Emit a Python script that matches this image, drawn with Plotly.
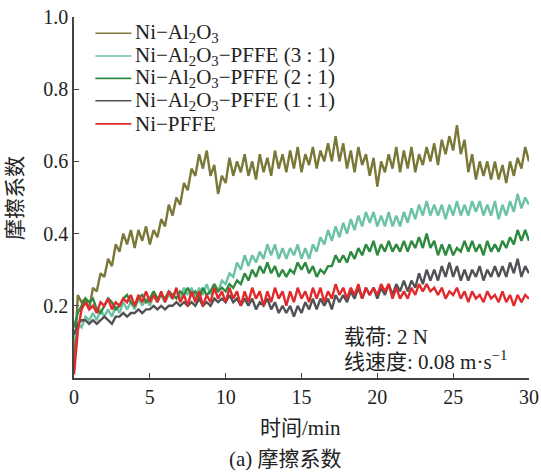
import plotly.graph_objects as go

# sampling grid (min), 0.25 min step
time_min = [i * 0.25 for i in range(121)]

ni_al2o3 = [
    0.02, 0.23, 0.21, 0.22, 0.19, 0.25, 0.24, 0.29,
    0.28, 0.33, 0.31, 0.37, 0.35, 0.40, 0.37, 0.41,
    0.36, 0.41, 0.38, 0.42, 0.37, 0.41, 0.39, 0.44,
    0.42, 0.48, 0.45, 0.50, 0.48, 0.54, 0.52, 0.58,
    0.56, 0.62, 0.58, 0.63, 0.56, 0.59, 0.51, 0.56,
    0.54, 0.61, 0.56, 0.60, 0.57, 0.62, 0.56, 0.60,
    0.55, 0.62, 0.57, 0.61, 0.56, 0.63, 0.58, 0.62,
    0.57, 0.63, 0.58, 0.64, 0.57, 0.62, 0.59, 0.64,
    0.58, 0.63, 0.60, 0.65, 0.60, 0.67, 0.60, 0.65,
    0.58, 0.63, 0.57, 0.64, 0.59, 0.62, 0.56, 0.61,
    0.53, 0.60, 0.57, 0.62, 0.58, 0.64, 0.57, 0.63,
    0.58, 0.64, 0.57, 0.62, 0.59, 0.64, 0.60, 0.65,
    0.59, 0.66, 0.62, 0.67, 0.63, 0.70, 0.62, 0.66,
    0.57, 0.62, 0.55, 0.60, 0.56, 0.60, 0.55, 0.60,
    0.55, 0.59, 0.54, 0.60, 0.56, 0.61, 0.58, 0.64,
    0.60,
]

pffe_3_1 = [
    0.11, 0.15, 0.14, 0.17, 0.16, 0.18, 0.16, 0.19,
    0.17, 0.19, 0.17, 0.20, 0.18, 0.21, 0.19, 0.21,
    0.19, 0.22, 0.20, 0.22, 0.20, 0.23, 0.21, 0.23,
    0.21, 0.23, 0.22, 0.24, 0.22, 0.25, 0.23, 0.25,
    0.22, 0.25, 0.23, 0.26, 0.23, 0.26, 0.24, 0.27,
    0.26, 0.29, 0.28, 0.32, 0.30, 0.34, 0.31, 0.34,
    0.32, 0.35, 0.33, 0.37, 0.34, 0.37, 0.33, 0.36,
    0.33, 0.36, 0.34, 0.37, 0.33, 0.36, 0.33, 0.37,
    0.35, 0.39, 0.37, 0.41, 0.38, 0.42, 0.39, 0.43,
    0.40, 0.44, 0.41, 0.45, 0.42, 0.46, 0.43, 0.46,
    0.42, 0.45, 0.42, 0.46, 0.42, 0.45, 0.42, 0.46,
    0.43, 0.47, 0.44, 0.48, 0.45, 0.49, 0.45, 0.48,
    0.45, 0.48, 0.44, 0.48, 0.45, 0.49, 0.45, 0.48,
    0.45, 0.49, 0.46, 0.49, 0.45, 0.48, 0.45, 0.49,
    0.44, 0.48, 0.45, 0.49, 0.46, 0.51, 0.47, 0.50,
    0.48,
]

pffe_2_1 = [
    0.14, 0.18, 0.20, 0.22, 0.21, 0.22, 0.19, 0.18,
    0.20, 0.22, 0.21, 0.19, 0.20, 0.22, 0.23, 0.21,
    0.20, 0.22, 0.23, 0.21, 0.22, 0.24, 0.22, 0.23,
    0.22, 0.24, 0.23, 0.22, 0.24, 0.23, 0.25, 0.23,
    0.24, 0.22, 0.25, 0.23, 0.24, 0.26, 0.24, 0.25,
    0.24, 0.26, 0.25, 0.27, 0.26, 0.29, 0.27, 0.30,
    0.28, 0.31, 0.29, 0.32, 0.29, 0.31, 0.28, 0.30,
    0.28, 0.30, 0.29, 0.32, 0.30, 0.32, 0.29, 0.31,
    0.28, 0.30, 0.29, 0.31, 0.31, 0.34, 0.32, 0.34,
    0.32, 0.35, 0.33, 0.36, 0.34, 0.37, 0.35, 0.38,
    0.34, 0.37, 0.35, 0.38, 0.35, 0.37, 0.35, 0.38,
    0.35, 0.38, 0.36, 0.39, 0.36, 0.40, 0.36, 0.38,
    0.34, 0.37, 0.34, 0.37, 0.34, 0.36, 0.35, 0.38,
    0.35, 0.38, 0.35, 0.37, 0.34, 0.38, 0.35, 0.37,
    0.35, 0.38, 0.36, 0.39, 0.37, 0.41, 0.38, 0.41,
    0.38,
]

pffe_1_1 = [
    0.12, 0.15, 0.16, 0.16, 0.15, 0.16, 0.15, 0.16,
    0.17, 0.16, 0.15, 0.17, 0.17, 0.18, 0.17, 0.18,
    0.18, 0.19, 0.18, 0.19, 0.19, 0.20, 0.19, 0.20,
    0.19, 0.20, 0.20, 0.21, 0.20, 0.21, 0.20, 0.21,
    0.20, 0.22, 0.20, 0.21, 0.20, 0.22, 0.21, 0.22,
    0.21, 0.23, 0.21, 0.22, 0.20, 0.22, 0.20, 0.22,
    0.19, 0.21, 0.20, 0.22, 0.19, 0.21, 0.18, 0.20,
    0.18, 0.20, 0.17, 0.20, 0.18, 0.21, 0.19, 0.22,
    0.19, 0.22, 0.20, 0.22, 0.19, 0.23, 0.21, 0.23,
    0.21, 0.24, 0.22, 0.25, 0.22, 0.25, 0.23, 0.25,
    0.22, 0.25, 0.23, 0.26, 0.23, 0.26, 0.24, 0.27,
    0.24, 0.27, 0.25, 0.29, 0.26, 0.30, 0.27, 0.30,
    0.27, 0.31, 0.28, 0.32, 0.28, 0.31, 0.27, 0.30,
    0.27, 0.30, 0.28, 0.31, 0.27, 0.30, 0.28, 0.31,
    0.28, 0.31, 0.28, 0.32, 0.29, 0.33, 0.28, 0.31,
    0.29,
]

ni_pffe = [
    0.01, 0.13, 0.19, 0.21, 0.19, 0.20, 0.18, 0.21,
    0.20, 0.22, 0.19, 0.21, 0.20, 0.22, 0.21, 0.23,
    0.20, 0.23, 0.21, 0.24, 0.21, 0.23, 0.21, 0.24,
    0.21, 0.24, 0.22, 0.25, 0.21, 0.23, 0.20, 0.24,
    0.21, 0.24, 0.20, 0.23, 0.21, 0.25, 0.22, 0.24,
    0.21, 0.25, 0.22, 0.24, 0.20, 0.24, 0.21, 0.25,
    0.22, 0.24, 0.20, 0.24, 0.21, 0.25, 0.22, 0.24,
    0.20, 0.24, 0.21, 0.25, 0.22, 0.24, 0.21, 0.25,
    0.22, 0.25, 0.21, 0.24, 0.22, 0.26, 0.23, 0.25,
    0.22, 0.25, 0.23, 0.26, 0.22, 0.25, 0.23, 0.25,
    0.23, 0.26, 0.24, 0.26, 0.22, 0.25, 0.22, 0.24,
    0.22, 0.25, 0.23, 0.26, 0.24, 0.26, 0.24, 0.25,
    0.23, 0.25, 0.22, 0.24, 0.23, 0.25, 0.22, 0.24,
    0.21, 0.24, 0.22, 0.23, 0.21, 0.24, 0.22, 0.23,
    0.21, 0.24, 0.21, 0.23, 0.20, 0.23, 0.21, 0.23,
    0.22,
]

series_names = [
    "Ni−Al<sub>2</sub>O<sub>3</sub>",
    "Ni−Al<sub>2</sub>O<sub>3</sub>−PFFE (3 : 1)",
    "Ni−Al<sub>2</sub>O<sub>3</sub>−PFFE (2 : 1)",
    "Ni−Al<sub>2</sub>O<sub>3</sub>−PFFE (1 : 1)",
    "Ni−PFFE",
]
series_values = [ni_al2o3, pffe_3_1, pffe_2_1, pffe_1_1, ni_pffe]
series_colors = ["#7a7838", "#6cc3a3", "#2e8a3e", "#505256", "#e2292b"]

x_ticks = [0, 5, 10, 15, 20, 25, 30]
y_ticks = [0.2, 0.4, 0.6, 0.8, 1.0]
y_ticktext = ["0.2", "0.4", "0.6", "0.8", "1.0"]

FONT = "Liberation Serif, Noto Sans CJK SC, serif"

fig = go.Figure()
for name, vals, col in zip(series_names, series_values, series_colors):
    fig.add_trace(go.Scatter(x=time_min, y=vals, mode="lines", name=name,
                             line=dict(color=col, width=2.4), showlegend=False))

# manual legend
leg_rows_y = [0.955, 0.892, 0.830, 0.768, 0.704]
for name, col, yy in zip(series_names, series_colors, leg_rows_y):
    fig.add_shape(type="line", xref="paper", yref="paper", x0=0.047, x1=0.126,
                  y0=yy, y1=yy, line=dict(color=col, width=1.6))
    fig.add_annotation(xref="paper", yref="paper", x=0.129, y=yy, text=name,
                       showarrow=False, xanchor="left", yanchor="middle",
                       font=dict(family=FONT, size=21, color="#222"))

# condition text
fig.add_annotation(xref="paper", yref="paper", x=0.588, y=(378 - 337) / 361,
                   text="载荷: 2 N", showarrow=False, xanchor="left", yanchor="middle",
                   font=dict(family=FONT, size=21, color="#222"))
fig.add_annotation(xref="paper", yref="paper", x=0.588, y=(378 - 360) / 361,
                   text="线速度: 0.08 m·s<sup>−1</sup>", showarrow=False,
                   xanchor="left", yanchor="middle",
                   font=dict(family=FONT, size=21, color="#222"))

# axis titles and caption
fig.add_annotation(xref="paper", yref="paper", x=-0.131, y=0.5, text="摩擦系数",
                   textangle=-90, showarrow=False, xanchor="center", yanchor="middle",
                   font=dict(family=FONT, size=21, color="#222"))
fig.add_annotation(xref="paper", yref="paper", x=0.498, y=(378 - 428) / 361,
                   text="时间/min", showarrow=False, xanchor="center", yanchor="middle",
                   font=dict(family=FONT, size=21, color="#222"))
fig.add_annotation(xref="paper", yref="paper", x=0.465, y=(378 - 459) / 361,
                   text="(a) 摩擦系数", showarrow=False, xanchor="center", yanchor="middle",
                   font=dict(family=FONT, size=21, color="#222"))

fig.update_layout(
    template="none",
    width=541, height=473,
    margin=dict(l=74, r=12, t=17, b=95, autoexpand=False),
    paper_bgcolor="white", plot_bgcolor="white",
    font=dict(family=FONT, size=20, color="#222"),
    showlegend=False,
)
fig.update_xaxes(range=[0, 30], tickvals=x_ticks, ticks="inside", ticklen=5,
                 tickcolor="#444", showline=True, linecolor="#444", linewidth=1.5,
                 showgrid=False, zeroline=False, tickfont=dict(size=20),
                 automargin=False)
fig.update_yaxes(range=[0, 1.0], tickvals=y_ticks, ticktext=y_ticktext,
                 ticks="inside", ticklen=5, tickcolor="#444", showline=True,
                 linecolor="#444", linewidth=1.5, showgrid=False, zeroline=False,
                 tickfont=dict(size=20), automargin=False)

fig.write_html(
    "out.html",
    config={"displayModeBar": False},
    post_script="document.body.style.margin='0';document.body.style.padding='0';"
                "document.body.style.overflow='hidden';",
)
